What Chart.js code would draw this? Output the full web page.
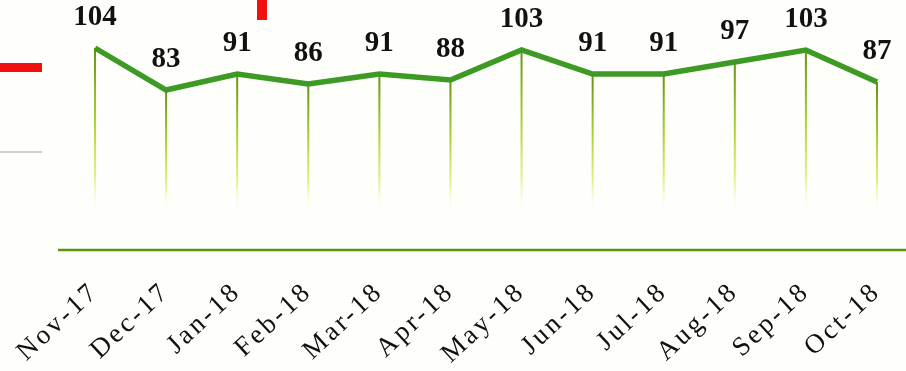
<!DOCTYPE html>
<html>
<head>
<meta charset="utf-8">
<script src="https://cdn.jsdelivr.net/npm/chart.js@4/dist/chart.umd.min.js"></script>
<style>
  html, body { margin: 0; padding: 0; background: #fefefa; }
  #wrap { width: 906px; height: 371px; }
</style>
</head>
<body>
<div id="wrap"><canvas id="myChart"></canvas></div>
<script>
const meses = ["Nov-17", "Dec-17", "Jan-18", "Feb-18", "Mar-18", "Apr-18",
    "May-18", "Jun-18", "Jul-18", "Aug-18", "Sep-18", "Oct-18"];
const valores = [104, 83, 91, 86, 91, 88, 103, 91, 91, 97, 103, 87];

const verdeLinea = "#3d9a24";
const verdeBase = "#5f9410";

// lineas verticales, etiquetas de valor y marcas rojas
const adornos = {
    id: "adornos",
    beforeDraw(chart) {
        // etiquetas del eje x un poco espaciadas
        chart.ctx.letterSpacing = "3px";
    },
    beforeDatasetsDraw(chart) {
        const { ctx, chartArea } = chart;
        const meta = chart.getDatasetMeta(0);
        ctx.save();
        meta.data.forEach((pt) => {
            const finY = 208;
            const grad = ctx.createLinearGradient(0, pt.y, 0, finY);
            grad.addColorStop(0, "rgba(100,145,20,1)");
            grad.addColorStop(0.5, "rgba(170,210,40,0.9)");
            grad.addColorStop(0.8, "rgba(215,235,90,0.7)");
            grad.addColorStop(1, "rgba(240,248,170,0)");
            ctx.strokeStyle = grad;
            ctx.lineWidth = 2;
            ctx.beginPath();
            ctx.moveTo(pt.x, pt.y);
            ctx.lineTo(pt.x, finY);
            ctx.stroke();
        });
        // linea base
        ctx.strokeStyle = verdeBase;
        ctx.lineWidth = 2.5;
        ctx.beginPath();
        ctx.moveTo(58, chartArea.bottom);
        ctx.lineTo(chart.width, chartArea.bottom);
        ctx.stroke();
        // marcas rojas y gris
        ctx.fillStyle = "#f01010";
        ctx.fillRect(0, 63, 42, 9);
        ctx.fillRect(257, 0, 10, 20);
        ctx.fillStyle = "rgba(150,150,150,0.45)";
        ctx.fillRect(0, 151, 42, 2);
        ctx.restore();
    },
    afterDatasetsDraw(chart) {
        const { ctx } = chart;
        const meta = chart.getDatasetMeta(0);
        ctx.save();
        ctx.letterSpacing = "0px";
        ctx.fillStyle = "#111";
        ctx.font = "bold 29px 'Liberation Serif', serif";
        ctx.textAlign = "center";
        ctx.textBaseline = "alphabetic";
        meta.data.forEach((pt, i) => {
            ctx.fillText(valores[i], pt.x, pt.y - 23);
        });
        ctx.restore();
    }
};

const ctx = document.getElementById("myChart");

new Chart(ctx, {
    type: "line",
    data: {
        labels: meses,
        datasets: [
            {
                data: valores,
                borderColor: verdeLinea,
                borderWidth: 5.5,
                pointRadius: 0,
                tension: 0,
            },
        ],
    },
    options: {
        responsive: true,
        maintainAspectRatio: false,
        animation: false,
        layout: {
            padding: { left: 95, right: 29, top: 0, bottom: 0 },
        },
        scales: {
            x: {
                offset: false,
                grid: { display: false, drawTicks: false },
                border: { display: false },
                ticks: {
                    color: "#111",
                    font: { family: "'Liberation Serif', serif", size: 27 },
                    minRotation: 43,
                    maxRotation: 43,
                    padding: 26,
                    autoSkip: false,
                },
                afterFit(scale) {
                    scale.height = 121;
                    scale.paddingLeft = 0;
                    scale.paddingRight = 0;
                },
            },
            y: {
                display: false,
                min: 3,
                max: 128,
            },
        },
        plugins: {
            legend: { display: false },
            tooltip: { enabled: false },
        },
    },
    plugins: [adornos],
});
</script>
</body>
</html>
